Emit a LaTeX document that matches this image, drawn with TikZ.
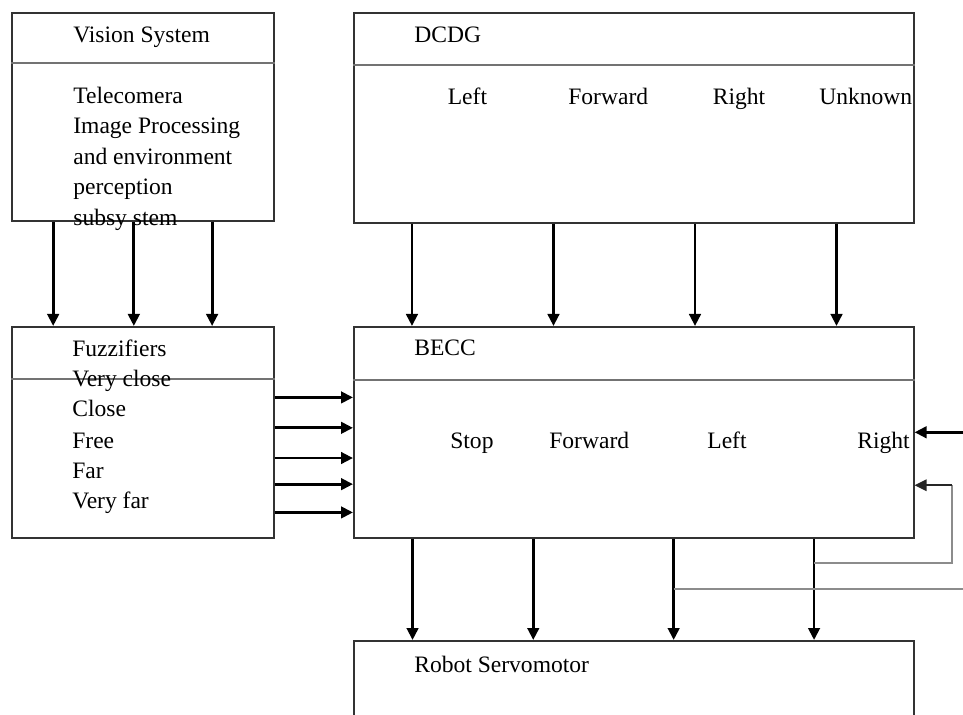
\documentclass[tikz,border=0pt]{standalone}
\usepackage{fontspec}
\setmainfont{Liberation Serif}
\usetikzlibrary{arrows.meta,calc}
\tikzset{
  ctrl box/.style={
    rectangle, draw=black!80, line width=0.9pt,
    anchor=north west, inner sep=0pt
  },
  ctrl text/.style={
    anchor=base west, inner sep=0pt,
    font=\fontsize{13.4}{16}\selectfont
  },
  ctrl rule/.style={black!55, line width=1pt},
  ctrl arr/.style={-{Triangle[length=2.4mm, width=2.3mm]}, line width=1.6pt},
  ctrl feed/.style={black!45, line width=0.7pt}
}

\begin{document}
\begin{tikzpicture}
  \clip (0,0) rectangle (19.26,-14.30);

  \node[ctrl box, minimum width=5.24cm, minimum height=4.16cm] (vision) at (0.22,-0.24) {};
  \node[ctrl box, minimum width=11.2cm, minimum height=4.2cm] (dcdg) at (7.06,-0.24) {};
  \node[ctrl box, minimum width=5.24cm, minimum height=4.22cm] (fuzz) at (0.22,-6.52) {};
  \node[ctrl box, minimum width=11.2cm, minimum height=4.22cm] (becc) at (7.06,-6.52) {};
  \node[ctrl box, minimum width=11.2cm, minimum height=3cm] (servo) at (7.06,-12.8) {};

  % header rules
  \draw[ctrl rule] ([yshift=-1.02cm]vision.north west) -- ([yshift=-1.02cm]vision.north east);
  \draw[ctrl rule] ([yshift=-1.06cm]dcdg.north west) -- ([yshift=-1.06cm]dcdg.north east);
  \draw[ctrl rule] ([yshift=-1.06cm]fuzz.north west) -- ([yshift=-1.06cm]fuzz.north east);
  \draw[ctrl rule] ([yshift=-1.08cm]becc.north west) -- ([yshift=-1.08cm]becc.north east);

  \node[ctrl text] (visiontitle) at (1.46,-0.86) {Vision System};
  \node[ctrl text] (vt1) at (1.46,-2.07) {Telecomera};
  \node[ctrl text] (vt2) at (1.46,-2.68) {Image Processing};
  \node[ctrl text] (vt3) at (1.46,-3.29) {and environment};
  \node[ctrl text] (vt4) at (1.46,-3.90) {perception};
  \node[ctrl text] (vt5) at (1.46,-4.52) {subsy stem};

  \node[ctrl text] (dcdgtitle) at (8.28,-0.86) {DCDG};
  \node[ctrl text] (dl1) at (8.95,-2.10) {Left};
  \node[ctrl text] (dl2) at (11.36,-2.10) {Forward};
  \node[ctrl text] (dl3) at (14.25,-2.10) {Right};
  \node[ctrl text] (dl4) at (16.38,-2.10) {Unknown};

  \node[ctrl text] (fuzztitle) at (1.44,-7.14) {Fuzzifiers};
  \node[ctrl text] (ft1) at (1.44,-7.74) {Very close};
  \node[ctrl text] (ft2) at (1.44,-8.34) {Close};
  \node[ctrl text] (ft3) at (1.44,-8.96) {Free};
  \node[ctrl text] (ft4) at (1.44,-9.56) {Far};
  \node[ctrl text] (ft5) at (1.44,-10.16) {Very far};

  \node[ctrl text] (becctitle) at (8.28,-7.12) {BECC};
  \node[ctrl text] (bl1) at (9.00,-8.96) {Stop};
  \node[ctrl text] (bl2) at (10.98,-8.96) {Forward};
  \node[ctrl text] (bl3) at (14.14,-8.96) {Left};
  \node[ctrl text] (bl4) at (17.14,-8.96) {Right};

  \node[ctrl text] (servotitle) at (8.28,-13.44) {Robot Servomotor};

  % vertical links
  \foreach \f [count=\i] in {0.160,0.466,0.763}
    \draw[ctrl arr] ($(vision.south west)!\f!(vision.south east)$) coordinate (vs\i)
      -- (vs\i |- fuzz.north);
  \foreach \f [count=\i] in {0.105,0.357,0.609,0.861}
    \draw[ctrl arr] ($(dcdg.south west)!\f!(dcdg.south east)$) coordinate (ds\i)
      -- (ds\i |- becc.north);
  \foreach \f [count=\i] in {0.106,0.321,0.571,0.821}
    \draw[ctrl arr] ($(becc.south west)!\f!(becc.south east)$) coordinate (bo\i)
      -- (bo\i |- servo.north);

  % fuzzifier outputs
  \foreach \f [count=\i] in {0.336,0.479,0.621,0.744,0.877}
    \draw[ctrl arr] ($(fuzz.north east)!\f!(fuzz.south east)$) coordinate (fz\i)
      -- (fz\i -| becc.west);

  % feedback
  \coordinate (fbsrc) at ([xshift=1.2cm]becc.east);
  \coordinate (fbin) at ($(becc.north east)!0.749!(becc.south east)$);
  \coordinate (fbturn) at (19.04,-11.26);
  \coordinate (fbout) at (19.4,-11.78);
  \draw[ctrl arr] (fbsrc) -- (becc.east);
  \draw[ctrl feed] (bo4 |- fbturn) -- (fbturn) -- (fbturn |- fbin);
  \draw[ctrl arr, line width=0.9pt, black!85] (fbturn |- fbin) -- (fbin);
  \draw[ctrl feed] (bo3 |- fbout) -- (fbout);
\end{tikzpicture}
\end{document}
